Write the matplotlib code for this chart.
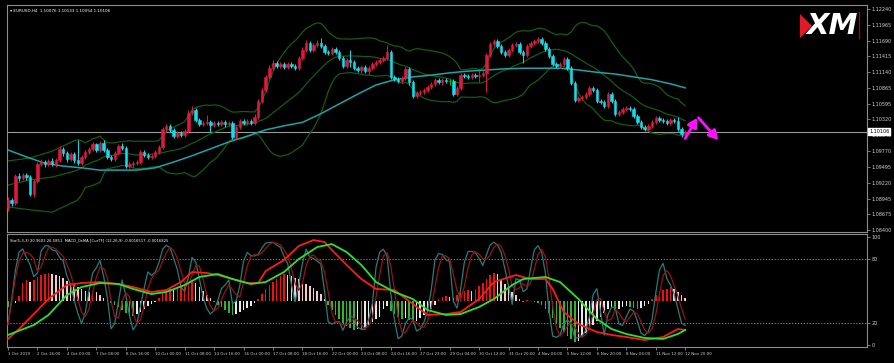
import numpy as np
import pandas as pd
import matplotlib
matplotlib.use("Agg")
import matplotlib.pyplot as plt
from matplotlib.lines import Line2D
from matplotlib.patches import Polygon
from matplotlib.transforms import blended_transform_factory

# ---------------- data (EURUSD H4) ----------------
opens = [
 1.0878, 1.0892, 1.0887, 1.0934, 1.0930, 1.0936, 1.0932, 1.0903, 1.0925, 1.0955,
 1.0958, 1.0955, 1.0960, 1.0955, 1.0962, 1.0981, 1.0974, 1.0963, 1.0972, 1.0962,
 1.0956, 1.0967, 1.0975, 1.0981, 1.0989, 1.0979, 1.0991, 1.0979, 1.0967, 1.0963,
 1.0974, 1.0986, 1.0982, 1.0951, 1.0955, 1.0956, 1.0958, 1.0975, 1.0970, 1.0967,
 1.0969, 1.0975, 1.0984, 1.1015, 1.1021, 1.1014, 1.1003, 1.1009, 1.1005, 1.1012,
 1.1043, 1.1048, 1.1031, 1.1024, 1.1026, 1.1027, 1.1022, 1.1026, 1.1024, 1.1027,
 1.1024, 1.1026, 1.1002, 1.1019, 1.1029, 1.1026, 1.1029, 1.1026, 1.1036, 1.1064,
 1.1083, 1.1106, 1.1121, 1.1130, 1.1125, 1.1128, 1.1123, 1.1128, 1.1125, 1.1121,
 1.1139, 1.1153, 1.1165, 1.1153, 1.1161, 1.1165, 1.1160, 1.1149, 1.1148, 1.1154,
 1.1149, 1.1139, 1.1125, 1.1135, 1.1132, 1.1121, 1.1118, 1.1123, 1.1116, 1.1121,
 1.1128, 1.1132, 1.1135, 1.1139, 1.1149, 1.1106, 1.1102, 1.1099, 1.1104, 1.1120,
 1.1097, 1.1073, 1.1078, 1.1080, 1.1083, 1.1088, 1.1094, 1.1101, 1.1097, 1.1101,
 1.1099, 1.1099, 1.1076, 1.1087, 1.1109, 1.1108, 1.1106, 1.1109, 1.1108, 1.1109,
 1.1113, 1.1144, 1.1163, 1.1168, 1.1160, 1.1149, 1.1144, 1.1153, 1.1161, 1.1163,
 1.1149, 1.1144, 1.1160, 1.1165, 1.1168, 1.1172, 1.1165, 1.1154, 1.1142, 1.1128,
 1.1125, 1.1128, 1.1137, 1.1121, 1.1095, 1.1066, 1.1069, 1.1071, 1.1076, 1.1087,
 1.1083, 1.1064, 1.1062, 1.1055, 1.1076, 1.1064, 1.1042, 1.1045, 1.1050, 1.1052,
 1.1050, 1.1038, 1.1027, 1.1019, 1.1015, 1.1021, 1.1027, 1.1035, 1.1031, 1.1029,
 1.1026, 1.1031, 1.1029, 1.1015, 1.10076]

closes = [
 1.0892, 1.0887, 1.0934, 1.0930, 1.0936, 1.0932, 1.0903, 1.0925, 1.0955, 1.0958,
 1.0955, 1.0960, 1.0955, 1.0962, 1.0981, 1.0974, 1.0963, 1.0972, 1.0962, 1.0956,
 1.0967, 1.0975, 1.0981, 1.0989, 1.0979, 1.0991, 1.0979, 1.0967, 1.0963, 1.0974,
 1.0986, 1.0982, 1.0951, 1.0955, 1.0956, 1.0958, 1.0975, 1.0970, 1.0967, 1.0969,
 1.0975, 1.0984, 1.1015, 1.1021, 1.1014, 1.1003, 1.1009, 1.1005, 1.1012, 1.1043,
 1.1048, 1.1031, 1.1024, 1.1026, 1.1027, 1.1022, 1.1026, 1.1024, 1.1027, 1.1024,
 1.1026, 1.1002, 1.1019, 1.1029, 1.1026, 1.1029, 1.1026, 1.1036, 1.1064, 1.1083,
 1.1106, 1.1121, 1.1130, 1.1125, 1.1128, 1.1123, 1.1128, 1.1125, 1.1121, 1.1139,
 1.1153, 1.1165, 1.1153, 1.1161, 1.1165, 1.1160, 1.1149, 1.1148, 1.1154, 1.1149,
 1.1139, 1.1125, 1.1135, 1.1132, 1.1121, 1.1118, 1.1123, 1.1116, 1.1121, 1.1128,
 1.1132, 1.1135, 1.1139, 1.1149, 1.1106, 1.1102, 1.1099, 1.1104, 1.1120, 1.1097,
 1.1073, 1.1078, 1.1080, 1.1083, 1.1088, 1.1094, 1.1101, 1.1097, 1.1101, 1.1099,
 1.1099, 1.1076, 1.1087, 1.1109, 1.1108, 1.1106, 1.1109, 1.1108, 1.1109, 1.1113,
 1.1144, 1.1163, 1.1168, 1.1160, 1.1149, 1.1144, 1.1153, 1.1161, 1.1163, 1.1149,
 1.1144, 1.1160, 1.1165, 1.1168, 1.1172, 1.1165, 1.1154, 1.1142, 1.1128, 1.1125,
 1.1128, 1.1137, 1.1121, 1.1095, 1.1066, 1.1069, 1.1071, 1.1076, 1.1087, 1.1083,
 1.1064, 1.1062, 1.1055, 1.1076, 1.1064, 1.1042, 1.1045, 1.1050, 1.1052, 1.1050,
 1.1038, 1.1027, 1.1019, 1.1015, 1.1021, 1.1027, 1.1035, 1.1031, 1.1029, 1.1026,
 1.1031, 1.1029, 1.1015, 1.1007, 1.10106]

highs = [
 1.0897, 1.0896, 1.0937, 1.0939, 1.0939, 1.0939, 1.0936, 1.0929, 1.0958, 1.0963,
 1.0962, 1.0963, 1.0965, 1.0965, 1.0986, 1.0984, 1.0977, 1.0975, 1.0975, 1.0996,
 1.0970, 1.0979, 1.0984, 1.0993, 1.0991, 1.0995, 1.0996, 1.0982, 1.0970, 1.0977,
 1.0989, 1.0991, 1.0986, 1.0958, 1.0960, 1.0962, 1.0979, 1.0979, 1.0974, 1.0972,
 1.0979, 1.0988, 1.1019, 1.1024, 1.1024, 1.1017, 1.1012, 1.1012, 1.1015, 1.1048,
 1.1055, 1.1052, 1.1035, 1.1029, 1.1040, 1.1031, 1.1029, 1.1029, 1.1031, 1.1031,
 1.1029, 1.1029, 1.1022, 1.1033, 1.1033, 1.1033, 1.1033, 1.1042, 1.1068, 1.1087,
 1.1109, 1.1127, 1.1135, 1.1134, 1.1132, 1.1132, 1.1132, 1.1132, 1.1128, 1.1142,
 1.1158, 1.1170, 1.1168, 1.1165, 1.1170, 1.1174, 1.1163, 1.1153, 1.1158, 1.1158,
 1.1153, 1.1142, 1.1139, 1.1153, 1.1135, 1.1125, 1.1127, 1.1127, 1.1125, 1.1132,
 1.1135, 1.1139, 1.1142, 1.1161, 1.1153, 1.1109, 1.1106, 1.1108, 1.1123, 1.1123,
 1.1101, 1.1082, 1.1083, 1.1087, 1.1092, 1.1097, 1.1104, 1.1104, 1.1104, 1.1104,
 1.1102, 1.1102, 1.1090, 1.1113, 1.1113, 1.1111, 1.1113, 1.1113, 1.1118, 1.1116,
 1.1148, 1.1167, 1.1172, 1.1172, 1.1163, 1.1153, 1.1156, 1.1165, 1.1167, 1.1167,
 1.1153, 1.1163, 1.1168, 1.1172, 1.1175, 1.1175, 1.1168, 1.1158, 1.1146, 1.1132,
 1.1132, 1.1141, 1.1141, 1.1125, 1.1099, 1.1073, 1.1075, 1.1080, 1.1090, 1.1090,
 1.1087, 1.1068, 1.1066, 1.1080, 1.1080, 1.1068, 1.1048, 1.1054, 1.1055, 1.1055,
 1.1054, 1.1042, 1.1031, 1.1022, 1.1024, 1.1031, 1.1038, 1.1038, 1.1035, 1.1033,
 1.1035, 1.1035, 1.1036, 1.1019, 1.10133]

lows = [
 1.0873, 1.0882, 1.0883, 1.0925, 1.0927, 1.0927, 1.0899, 1.0897, 1.0922, 1.0951,
 1.0949, 1.0951, 1.0951, 1.0949, 1.0958, 1.0969, 1.0958, 1.0960, 1.0956, 1.0953,
 1.0953, 1.0963, 1.0972, 1.0977, 1.0975, 1.0975, 1.0975, 1.0963, 1.0960, 1.0960,
 1.0970, 1.0979, 1.0948, 1.0948, 1.0949, 1.0953, 1.0955, 1.0967, 1.0963, 1.0963,
 1.0965, 1.0972, 1.0981, 1.1012, 1.1010, 1.1000, 1.1000, 1.1002, 1.1002, 1.1009,
 1.1040, 1.1027, 1.1021, 1.1021, 1.1022, 1.1010, 1.1019, 1.1021, 1.1021, 1.1019,
 1.1021, 1.0998, 1.0998, 1.1015, 1.1022, 1.1022, 1.1022, 1.1022, 1.1033, 1.1061,
 1.1080, 1.1102, 1.1118, 1.1121, 1.1121, 1.1120, 1.1120, 1.1121, 1.1118, 1.1118,
 1.1135, 1.1149, 1.1149, 1.1149, 1.1158, 1.1156, 1.1146, 1.1144, 1.1144, 1.1146,
 1.1135, 1.1121, 1.1121, 1.1123, 1.1118, 1.1114, 1.1113, 1.1113, 1.1109, 1.1118,
 1.1125, 1.1128, 1.1132, 1.1135, 1.1102, 1.1099, 1.1095, 1.1095, 1.1101, 1.1092,
 1.1069, 1.1069, 1.1075, 1.1076, 1.1080, 1.1085, 1.1090, 1.1094, 1.1092, 1.1095,
 1.1092, 1.1073, 1.1073, 1.1083, 1.1104, 1.1102, 1.1102, 1.1104, 1.1097, 1.1106,
 1.1080, 1.1141, 1.1160, 1.1156, 1.1146, 1.1141, 1.1141, 1.1149, 1.1158, 1.1146,
 1.1130, 1.1141, 1.1156, 1.1161, 1.1165, 1.1161, 1.1151, 1.1139, 1.1125, 1.1121,
 1.1121, 1.1125, 1.1118, 1.1092, 1.1062, 1.1062, 1.1066, 1.1068, 1.1073, 1.1080,
 1.1061, 1.1059, 1.1052, 1.1052, 1.1061, 1.1038, 1.1038, 1.1042, 1.1047, 1.1047,
 1.1035, 1.1024, 1.1015, 1.1012, 1.1012, 1.1017, 1.1024, 1.1027, 1.1026, 1.1022,
 1.1022, 1.1026, 1.1012, 1.1002, 1.10054]

# long moving average (read every 5 bars)
ma_idx = list(range(0, 181, 5)) + [184]
ma_vals = [1.0979, 1.0967, 1.0956, 1.0951, 1.0948, 1.0944, 1.0944, 1.0944, 1.0948, 1.0958,
           1.0969, 1.0981, 1.0993, 1.1003, 1.1014, 1.1021, 1.1027, 1.1042, 1.1059, 1.1076,
           1.1092, 1.1101, 1.1106, 1.1109, 1.1113, 1.1116, 1.1118, 1.1120, 1.1121, 1.1121,
           1.1121, 1.1118, 1.1114, 1.1111, 1.1106, 1.1101, 1.1094, 1.1087]

# Bollinger band values shown before 20 bars of history are available
bb_lead_idx = [0, 6, 12, 18]
bb_lead_upper = [1.0960, 1.0965, 1.0977, 1.0995]
bb_lead_mid = [1.0918, 1.0927, 1.0932, 1.0942]
bb_lead_lower = [1.0880, 1.0875, 1.0871, 1.0889]

# stochastic values shown before enough history is available
stoch_k_lead = [19, 42, 69, 86, 89, 81]
stoch_d_lead = [19, 40, 62, 78, 85, 86, 84, 80]

# MACD_OsMA lines (window units) and histogram (window units, relative to its zero level)
macd_idx = [0, 3, 7, 11, 16, 20, 25, 30, 34, 39, 43, 47, 50, 54, 57, 61, 65, 68, 70, 75,
            79, 83, 86, 88, 92, 96, 100, 105, 110, 114, 119, 123, 128, 132, 138, 142, 146,
            148, 151, 155, 160, 164, 168, 173, 178, 182, 184]
macd_main = [5.6, 14.8, 28.7, 42.6, 55.6, 57.4, 58.3, 56.5, 53.7, 49.1, 50.9, 58.3, 67.6,
             66.7, 64.8, 61.1, 57.4, 57.4, 68.5, 78.7, 91.7, 97.2, 95.4, 88.0, 74.1, 61.1,
             51.9, 50.9, 38.0, 27.8, 28.7, 30.6, 42.6, 58.3, 64.8, 61.1, 61.1, 51.9, 30.6,
             19.4, 12.0, 9.3, 7.4, 4.6, 7.4, 14.8, 13.9]
signal_idx = [0, 7, 11, 16, 20, 25, 30, 34, 39, 43, 48, 52, 57, 61, 66, 70, 75, 79, 84, 88,
              92, 96, 100, 105, 110, 114, 119, 123, 128, 132, 137, 140, 146, 150, 155, 160,
              164, 168, 173, 178, 182, 184]
macd_signal = [9.3, 18.5, 27.8, 46.3, 53.7, 57.4, 56.5, 51.9, 47.2, 49.1, 55.6, 63.0, 65.7,
               61.1, 56.5, 58.3, 67.6, 79.6, 90.7, 93.5, 86.1, 74.1, 58.3, 49.1, 42.6, 32.4,
               27.8, 28.7, 35.2, 42.6, 55.6, 61.1, 63.0, 58.3, 42.6, 24.1, 14.8, 10.2, 6.5,
               5.6, 10.2, 13.9]
osma_hist = [
 -5.6, -3.7, -1.9, 4.6, 16.7, 19.4, 17.6, 19.4, 22.2, 24.1,
 25.0, 25.9, 25.0, 24.1, 23.1, 21.3, 18.5, 16.7, 14.8, 13.0,
 11.1, 9.3, 8.3, 9.3, 8.3, 5.6, 2.8, 0.9, -1.9, -3.7,
 -5.6, -8.3, -11.1, -13.0, -13.9, -12.0, -10.2, -7.4, -4.6, -2.8,
 -0.9, 2.8, 7.4, 9.3, 11.1, 10.2, 12.0, 13.9, 15.7, 17.6,
 18.5, 16.7, 13.0, 9.3, 5.6, 2.8, -0.9, -3.7, -5.6, -8.3,
 -11.1, -13.0, -12.0, -10.2, -8.3, -6.5, -4.6, -1.9, 1.9, 6.5,
 11.1, 14.8, 17.6, 20.4, 23.1, 25.0, 24.1, 23.1, 21.3, 20.4,
 17.6, 15.7, 13.9, 12.0, 9.3, 6.5, 1.9, -3.7, -8.3, -13.0,
 -16.7, -20.4, -23.1, -25.0, -26.9, -25.9, -26.9, -25.0, -22.2, -19.4,
 -16.7, -14.8, -7.4, -4.6, -9.3, -12.0, -14.8, -16.7, -15.7, -17.6,
 -19.4, -18.5, -15.7, -13.0, -10.2, -7.4, -3.7, 1.9, 3.7, 4.6,
 3.7, 2.8, 5.6, 8.3, 9.3, 10.2, 9.3, 11.1, 13.9, 16.7,
 20.4, 24.1, 25.9, 25.0, 20.4, 15.7, 12.0, 8.3, 5.6, 1.9,
 -0.9, 0.9, 0.5, -0.9, -1.9, -3.7, -7.4, -11.1, -15.7, -20.4,
 -25.0, -28.7, -32.4, -35.2, -38.0, -37.0, -33.3, -29.6, -25.9, -22.2,
 -18.5, -14.8, -11.1, -7.4, -6.5, -8.3, -7.4, -5.6, -4.6, -5.6,
 -6.5, -7.4, -6.5, -4.6, -2.8, 1.9, 5.6, 8.3, 10.2, 11.1,
 13.0, 11.1, 8.3, 5.6, 2.8]
osma_zero = 40.7

# projected path (magenta arrows)
arrow_idx = [184, 187.3, 193]
arrow_price = [1.0999, 1.1035, 1.0996]

price_ticks = [1.12240, 1.11965, 1.11690, 1.11415, 1.11140, 1.10865, 1.10595, 1.10320,
               1.10045, 1.09770, 1.09495, 1.09220, 1.08945, 1.08675, 1.08400]
time_idx = [0, 8, 16, 24, 32, 40, 48, 56, 64, 72, 80, 88, 96, 104, 112, 120, 128, 136,
            144, 152, 160, 168, 176, 184]
time_labels = ["1 Oct 2019", "2 Oct 16:00", "4 Oct 00:00", "7 Oct 08:00", "8 Oct 16:00",
               "10 Oct 00:00", "11 Oct 08:00", "14 Oct 16:00", "16 Oct 00:00", "17 Oct 08:00",
               "18 Oct 16:00", "22 Oct 00:00", "23 Oct 08:00", "24 Oct 16:00", "27 Oct 23:00",
               "29 Oct 04:00", "30 Oct 12:00", "31 Oct 20:00", "4 Nov 04:00", "5 Nov 12:00",
               "6 Nov 20:00", "8 Nov 04:00", "11 Nov 12:00", "12 Nov 20:00"]

# ---------------- figure ----------------
W, H = 895, 363
fig = plt.figure(figsize=(W / 100, H / 100), dpi=100, facecolor="black")
FRAME = "#8c8c8c"
TXT = "#d0d0d0"

ax = fig.add_axes([7 / W, 1 - 232 / H, 860 / W, 227 / H], facecolor="black")
ax2 = fig.add_axes([7 / W, 1 - 347 / H, 860 / W, 113 / H], facecolor="black")

o = np.array(opens); c = np.array(closes); h = np.array(highs); l = np.array(lows)
n = len(c)
idx = np.arange(n)

UP = "#e0193f"
DN = "#10e0ee"
cols = np.where(c > o, UP, np.where(c < o, DN, "#19c019"))

# indicators
cs = pd.Series(c); hs = pd.Series(h); ls = pd.Series(l)
mid = cs.rolling(20).mean()
sd = cs.rolling(20).std(ddof=0)
x_bb = np.r_[bb_lead_idx, np.arange(19, n)]
BB = "#125c12"
for lead, series in [(bb_lead_upper, mid + 2 * sd), (bb_lead_mid, mid), (bb_lead_lower, mid - 2 * sd)]:
    ax.plot(x_bb, np.r_[lead, series.values[19:]], color=BB, lw=0.9, zorder=2)
ax.plot(ma_idx, ma_vals, color="#1ea3aa", lw=1.1, zorder=2)

# candles
ax.vlines(idx, l, h, colors=cols, lw=0.7, zorder=3)
ax.bar(idx, np.abs(c - o), bottom=np.minimum(o, c), width=0.66, color=cols,
       edgecolor=cols, linewidth=0.4, zorder=4)

ax.axhline(c[-1], color="#9a9a9a", lw=0.8, zorder=1)

for (x0, y0), (x1, y1) in [((arrow_idx[0], arrow_price[0]), (arrow_idx[1], arrow_price[1])),
                           ((arrow_idx[1] + 0.3, arrow_price[1]), (arrow_idx[2], arrow_price[2]))]:
    ax.annotate("", xy=(x1, y1), xytext=(x0, y0),
                arrowprops=dict(arrowstyle="-|>,head_length=0.55,head_width=0.3",
                                color="#ff10ff", lw=2.0, shrinkA=0, shrinkB=0), zorder=6)

ax.set_xlim(-0.27, 233.4)
ax.set_ylim(1.08365, 1.12309)
ax.yaxis.tick_right()
ax.set_yticks(price_ticks)
ax.set_yticklabels([f"{p:.5f}" for p in price_ticks])
ax.tick_params(axis="y", colors=FRAME, labelcolor=TXT, labelsize=3.5, length=2, width=0.6, pad=1)
ax.set_xticks([])
for s in ax.spines.values():
    s.set_color(FRAME); s.set_linewidth(0.8)

tr = blended_transform_factory(ax.transAxes, ax.transData)
ax.text(1.0025, c[-1], f"{c[-1]:.5f}", transform=tr, fontsize=3.5, color="black",
        va="center", ha="left", zorder=10,
        bbox=dict(facecolor="white", edgecolor="white", pad=0.6))

# ---- lower window ----
stoch_k = 100 * (cs - ls.rolling(5).min()).rolling(3).sum() / \
    (hs.rolling(5).max() - ls.rolling(5).min()).rolling(3).sum()
stoch_k.iloc[:len(stoch_k_lead)] = stoch_k_lead
stoch_d = stoch_k.rolling(3).mean()
stoch_d.iloc[:len(stoch_d_lead)] = stoch_d_lead

hist = np.array(osma_hist)
prev = np.r_[hist[0], hist[:-1]]
hcols = np.where(hist >= 0, np.where(hist >= prev, "#f01010", "#f5c8cc"),
                 np.where(hist <= prev, "#2fb52f", "#e8e8e8"))
ax2.bar(idx, hist, bottom=osma_zero, width=0.42, color=hcols, linewidth=0, zorder=2)

for lev in (80, 20):
    ax2.axhline(lev, color="#9a9a9a", lw=0.6, ls=(0, (1.5, 2)), zorder=1)

ax2.plot(idx, stoch_k.values, color="#267c7c", lw=0.9, zorder=3)
ax2.plot(idx, stoch_d.values, color="#9a1212", lw=0.9, zorder=3)
ax2.plot(macd_idx, macd_main, color="#ff1a1a", lw=1.3, zorder=4)
ax2.plot(signal_idx, macd_signal, color="#2ee02e", lw=1.3, zorder=4)

ax2.set_xlim(-0.27, 233.4)
ax2.set_ylim(-1.85, 102.8)
ax2.yaxis.tick_right()
ax2.set_yticks([0, 20, 80, 100])
ax2.set_yticklabels(["0", "20", "80", "100"])
ax2.tick_params(axis="y", colors=FRAME, labelcolor=TXT, labelsize=3.5, length=2, width=0.6, pad=1)
ax2.set_xticks(time_idx)
ax2.set_xticklabels(time_labels, ha="left")
ax2.tick_params(axis="x", colors=FRAME, labelcolor=TXT, labelsize=2.9, length=2.5, width=0.6, pad=1)
for s in ax2.spines.values():
    s.set_color(FRAME); s.set_linewidth(0.8)

# ---- texts / logo ----
fig.text(10 / W, 1 - 11 / H, "\u25be EURUSD,H4  1.10076 1.10133 1.10054 1.10106",
         fontsize=3.0, color="white", va="center", ha="left")
fig.text(10 / W, 1 - 240 / H,
         "Sto(5,3,3) 20.9603 26.5851  MACD_OsMA [CurTF] (12,26,9) -0.0016517 -0.0016825",
         fontsize=2.7, color="white", va="center", ha="left")

fig.add_artist(Polygon([[800 / W, 1 - 14 / H], [812 / W, 1 - 26 / H], [800 / W, 1 - 38 / H]],
                       closed=True, transform=fig.transFigure, facecolor="#e0192b",
                       edgecolor="none"))
fig.text(806 / W, 1 - 26 / H, "XM", fontsize=21, fontweight="bold", style="italic",
         color="white", va="center", ha="left")
fig.add_artist(Line2D([859 / W, 859 / W], [1 - 12 / H, 1 - 38 / H], transform=fig.transFigure,
                      color="#8b0d0d", lw=1.0))

fig.savefig("out.png", dpi=100, facecolor="black")
